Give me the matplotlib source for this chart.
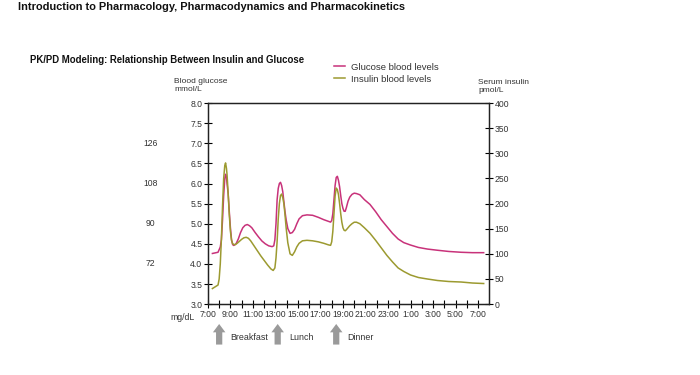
import matplotlib
matplotlib.use('Agg')
import matplotlib.pyplot as plt
import numpy as np

plt.rcParams['font.family'] = ['Liberation Sans', 'DejaVu Sans']

# hours after 7:00 and blood glucose (mmol/L)
glucose_hours = [0.4, 0.9, 1.1, 1.2, 1.3, 1.4, 1.5, 1.57, 1.65, 1.7, 1.8, 1.9, 2.0, 2.1, 2.2, 2.3,
                 2.5, 2.7, 2.9, 3.1, 3.3, 3.5, 3.7, 3.9, 4.2, 4.5, 4.8, 5.1, 5.4, 5.7, 5.85,
                 5.95, 6.05, 6.15, 6.25, 6.35, 6.45, 6.55, 6.65, 6.75, 6.85, 6.95, 7.1, 7.3,
                 7.5, 7.7, 7.9, 8.1, 8.4, 8.8, 9.3, 9.8, 10.3, 10.7, 10.9, 11.0, 11.1, 11.2,
                 11.3, 11.4, 11.5, 11.6, 11.7, 11.8, 11.9, 12.0, 12.1, 12.2, 12.3, 12.45,
                 12.6, 12.8, 13.0, 13.2, 13.5, 13.9, 14.4, 14.9, 15.4, 15.9, 16.4, 16.9,
                 17.4, 18.0, 18.7, 19.5, 20.4, 21.4, 22.5, 23.5, 24.5]
glucose_mmol = [4.26, 4.29, 4.42, 4.6, 5.1, 5.7, 6.12, 6.23, 6.15, 6.0, 5.75, 5.3, 4.9, 4.6, 4.48, 4.46,
                4.5, 4.62, 4.78, 4.9, 4.96, 4.98, 4.95, 4.9, 4.78, 4.67, 4.57, 4.5, 4.45, 4.43, 4.45,
                4.6, 5.0, 5.6, 5.88, 6.0, 6.03, 5.95, 5.8, 5.55, 5.3, 5.1, 4.88, 4.76,
                4.78, 4.86, 5.0, 5.12, 5.2, 5.22, 5.21, 5.16, 5.1, 5.06, 5.04, 5.08, 5.25, 5.6,
                5.95, 6.15, 6.18, 6.08, 5.92, 5.7, 5.5, 5.38, 5.31, 5.31, 5.4, 5.56,
                5.66, 5.73, 5.76, 5.75, 5.72, 5.6, 5.48, 5.3, 5.1, 4.93, 4.76, 4.62,
                4.53, 4.47, 4.41, 4.37, 4.34, 4.31, 4.29, 4.28, 4.28]

# hours after 7:00 and serum insulin (pmol/L)
insulin_hours = [0.4, 0.9, 1.0, 1.1, 1.2, 1.3, 1.4, 1.5, 1.57, 1.65, 1.7, 1.8, 1.9, 2.0, 2.1, 2.2,
                 2.4, 2.6, 2.8, 3.0, 3.2, 3.4, 3.6, 3.8, 4.1, 4.4, 4.7, 5.0, 5.3, 5.6, 5.8,
                 5.95, 6.05, 6.15, 6.25, 6.35, 6.45, 6.55, 6.65, 6.75, 6.85, 6.95, 7.1, 7.3,
                 7.5, 7.7, 7.9, 8.1, 8.4, 8.8, 9.3, 9.8, 10.3, 10.7, 10.9, 11.0, 11.1, 11.2,
                 11.3, 11.4, 11.5, 11.6, 11.7, 11.8, 11.9, 12.0, 12.1, 12.2, 12.3, 12.45,
                 12.6, 12.8, 13.0, 13.2, 13.5, 13.9, 14.4, 14.9, 15.4, 15.9, 16.4, 16.9,
                 17.4, 18.0, 18.7, 19.5, 20.4, 21.4, 22.5, 23.5, 24.5]
insulin_pmol = [31, 38, 50, 80, 130, 195, 250, 276, 281, 270, 258, 220, 178, 145, 127, 120,
                118, 121, 125, 129, 132, 133, 131, 126, 116, 106, 96, 87, 78, 70, 67,
                72, 92, 125, 170, 200, 216, 219, 212, 200, 178, 152, 122, 100,
                97, 104, 114, 121, 126, 127, 126, 124, 121, 118, 117, 124, 145, 180,
                215, 231, 228, 218, 200, 180, 163, 152, 147, 146, 148, 152,
                156, 160, 163, 163, 160, 152, 141, 127, 112, 97, 84, 72,
                65, 58, 53, 50, 47, 45, 44, 42, 41]

meal_hours = [1.0, 6.2, 11.4]
meal_labels = ['Breakfast', 'Lunch', 'Dinner']

left_ticks = np.arange(3.0, 8.01, 0.5)
mgdl_ticks = [4.0, 5.0, 6.0, 7.0]
mgdl_labels = ['72', '90', '108', '126']
right_ticks = np.arange(0, 401, 50)
hour_ticks = np.arange(0, 25, 2)
hour_labels = ['%d:00' % ((7 + h) % 24) for h in hour_ticks]

glucose_color = '#c8327a'
insulin_color = '#9c9a30'
text_color = '#333333'

fig = plt.figure(figsize=(7, 3.75), dpi=100)
ax = fig.add_axes([0.297, 0.189, 0.402, 0.536])
ax2 = ax.twinx()

l1, = ax.plot(glucose_hours, glucose_mmol, color=glucose_color, lw=1.1)
l2, = ax2.plot(insulin_hours, insulin_pmol, color=insulin_color, lw=1.1)

ax.set_xlim(0, 25)
ax.set_ylim(3.0, 8.0)
ax2.set_ylim(0, 400)

ax.set_yticks(left_ticks)
ax.set_yticklabels(['%.1f' % v for v in left_ticks])
ax.set_xticks(hour_ticks)
ax.set_xticklabels(hour_labels)
ax.set_xticks(np.arange(0, 25, 1), minor=True)
ax2.set_yticks(right_ticks)

ax.tick_params(axis='both', which='both', direction='inout', length=6, width=0.8,
               labelsize=6.2, labelcolor=text_color, pad=1)
ax.tick_params(axis='x', which='minor', length=6)
ax2.tick_params(axis='y', direction='inout', length=6, width=0.8,
                labelsize=6.2, labelcolor=text_color, pad=1)

for sp in list(ax.spines.values()) + list(ax2.spines.values()):
    sp.set_linewidth(0.9)
    sp.set_color('#222222')

# mg/dL scale next to the left axis
for v, lab in zip(mgdl_ticks, mgdl_labels):
    ax.text(-0.203, v, lab, transform=ax.get_yaxis_transform(), ha='center', va='center',
            fontsize=6.2, color=text_color)

fig.text(170 / 700, 1 - 318 / 375, 'mg/dL', ha='left', va='center', fontsize=6.2, color=text_color)
fig.text(174 / 700, 1 - 78 / 375, 'Blood glucose\nmmol/L', ha='left', va='top',
         fontsize=6, color=text_color, linespacing=1.15)
fig.text(478 / 700, 1 - 79 / 375, 'Serum insulin\npmol/L', ha='left', va='top',
         fontsize=6, color=text_color, linespacing=1.15)

# meal arrows under the time axis
for h, lab in zip(meal_hours, meal_labels):
    ax.annotate('', xy=(h, -0.085), xytext=(h, -0.215),
                xycoords=ax.get_xaxis_transform(), textcoords=ax.get_xaxis_transform(),
                arrowprops=dict(arrowstyle='simple,head_width=0.9,head_length=0.6,tail_width=0.45',
                                color='#9a9a9a', lw=0), annotation_clip=False)
    ax.annotate(lab, xy=(h, -0.165), xycoords=ax.get_xaxis_transform(),
                xytext=(8, 0), textcoords='offset points', ha='left', va='center',
                fontsize=6.4, color=text_color, annotation_clip=False)

fig.legend([l1, l2], ['Glucose blood levels', 'Insulin blood levels'],
           loc='upper left', bbox_to_anchor=(329 / 700, 1 - 58 / 375), frameon=False,
           fontsize=6.8, handlelength=1.2, handletextpad=0.6, labelspacing=0.3,
           borderpad=0, labelcolor=text_color)

fig.text(18 / 700, 1 - 7 / 375, 'Introduction to Pharmacology, Pharmacodynamics and Pharmacokinetics',
         ha='left', va='center', fontsize=7.9, fontweight='bold', color='#111111')
fig.text(30 / 700, 1 - 60 / 375, 'PK/PD Modeling: Relationship Between Insulin and Glucose',
         ha='left', va='center', fontsize=6.9, fontweight='bold', color='#111111')

fig.savefig('out.png', dpi=100)
